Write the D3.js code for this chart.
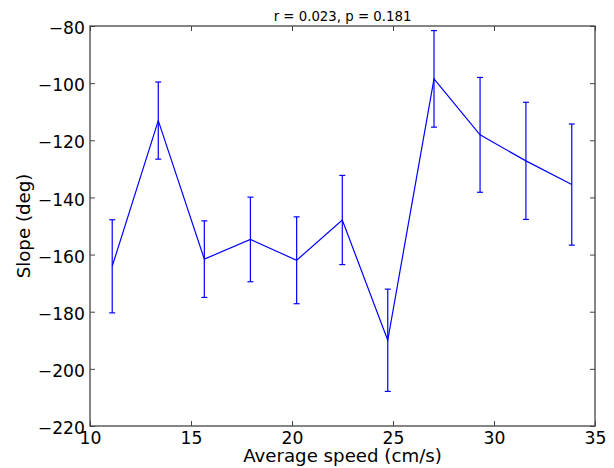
<!DOCTYPE html>
<html>
<head>
<meta charset="utf-8">
<script src="https://cdn.jsdelivr.net/npm/d3@7"></script>
<style>
  body { margin: 0; background: #fff; }
  svg { display: block; }
  svg text { font-family: "DejaVu Sans", sans-serif; fill: #000; }
</style>
</head>
<body>
<div id="chart"></div>
<script>
// speed bins (cm/s), mean slope (deg) and error bar half-width
const speeds = [11.1, 13.38, 15.66, 17.94, 20.23, 22.49, 24.74, 27.03, 29.31, 31.58, 33.85];
const slopes = [-164.1, -113.1, -161.6, -154.7, -162.0, -147.9, -190.0, -98.5, -118.1, -127.2, -135.5];
const errs = [16.3, 13.5, 13.4, 14.8, 15.2, 15.6, 17.9, 16.9, 20.1, 20.5, 21.2];
const xTicks = [10, 15, 20, 25, 30, 35];
const yTicks = [-220, -200, -180, -160, -140, -120, -100, -80];
const title = "r = 0.023, p = 0.181";

const data = speeds.map((s, i) => ({x: s, y: slopes[i], e: errs[i]}));

const width = 614, height = 468;
const margin = {top: 26, right: 19, bottom: 42, left: 90};
const w = width - margin.left - margin.right;
const h = height - margin.top - margin.bottom;

const svg = d3.select("#chart").append("svg")
    .attr("width", width)
    .attr("height", height);

const g = svg.append("g")
    .attr("transform", `translate(${margin.left},${margin.top})`);

const x = d3.scaleLinear().domain([10, 35]).range([0, w]);
const y = d3.scaleLinear().domain([-220, -80]).range([h, 0]);

const fmt = d => String(d).replace("-", "\u2212");
const axisColor = "#444";

// axes, ticks pointing inward on all four sides
const xAxisBottom = g.append("g").attr("transform", `translate(0,${h})`)
    .call(d3.axisBottom(x).tickValues(xTicks).tickSize(-5).tickFormat(fmt));
const xAxisTop = g.append("g")
    .call(d3.axisTop(x).tickValues(xTicks).tickSize(-5).tickFormat(""));
const yAxisLeft = g.append("g")
    .call(d3.axisLeft(y).tickValues(yTicks).tickSize(-5).tickFormat(fmt));
const yAxisRight = g.append("g").attr("transform", `translate(${w},0)`)
    .call(d3.axisRight(y).tickValues(yTicks).tickSize(-5).tickFormat(""));

[xAxisBottom, xAxisTop, yAxisLeft, yAxisRight].forEach(a => {
    a.attr("font-family", null).attr("font-size", null);
    a.select(".domain").remove();
    a.selectAll(".tick line").attr("stroke", axisColor).attr("stroke-width", 1);
    a.selectAll(".tick text").attr("fill", "#000").style("font-size", "17.2px");
});
xAxisBottom.selectAll(".tick text").attr("y", 18).attr("dy", null);
yAxisLeft.selectAll(".tick text").attr("x", -5).attr("dy", "0.44em");

// frame
g.append("rect")
    .attr("width", w).attr("height", h)
    .attr("fill", "none")
    .attr("stroke", axisColor)
    .attr("stroke-width", 1.3);

// error bars
const cap = 3;
const bars = g.append("g").attr("stroke", "#0000ff").attr("stroke-width", 1.2);
bars.selectAll(".bar")
    .data(data).enter().append("line")
    .attr("x1", d => x(d.x)).attr("x2", d => x(d.x))
    .attr("y1", d => y(d.y - d.e)).attr("y2", d => y(d.y + d.e));
bars.selectAll(".capTop")
    .data(data).enter().append("line")
    .attr("x1", d => x(d.x) - cap).attr("x2", d => x(d.x) + cap)
    .attr("y1", d => y(d.y + d.e)).attr("y2", d => y(d.y + d.e));
bars.selectAll(".capBottom")
    .data(data).enter().append("line")
    .attr("x1", d => x(d.x) - cap).attr("x2", d => x(d.x) + cap)
    .attr("y1", d => y(d.y - d.e)).attr("y2", d => y(d.y - d.e));

// mean line
g.append("path")
    .datum(data)
    .attr("fill", "none")
    .attr("stroke", "#0000ff")
    .attr("stroke-width", 1.2)
    .attr("d", d3.line().x(d => x(d.x)).y(d => y(d.y)));

// labels
svg.append("text")
    .attr("x", margin.left + w / 2).attr("y", 21)
    .attr("text-anchor", "middle")
    .style("font-size", "13.3px")
    .text(title);

svg.append("text")
    .attr("x", margin.left + w / 2).attr("y", 462)
    .attr("text-anchor", "middle")
    .style("font-size", "18.2px")
    .text("Average speed (cm/s)");

svg.append("text")
    .attr("transform", `translate(29.5,${margin.top + h / 2}) rotate(-90)`)
    .attr("text-anchor", "middle")
    .style("font-size", "18.2px")
    .text("Slope (deg)");
</script>
</body>
</html>
